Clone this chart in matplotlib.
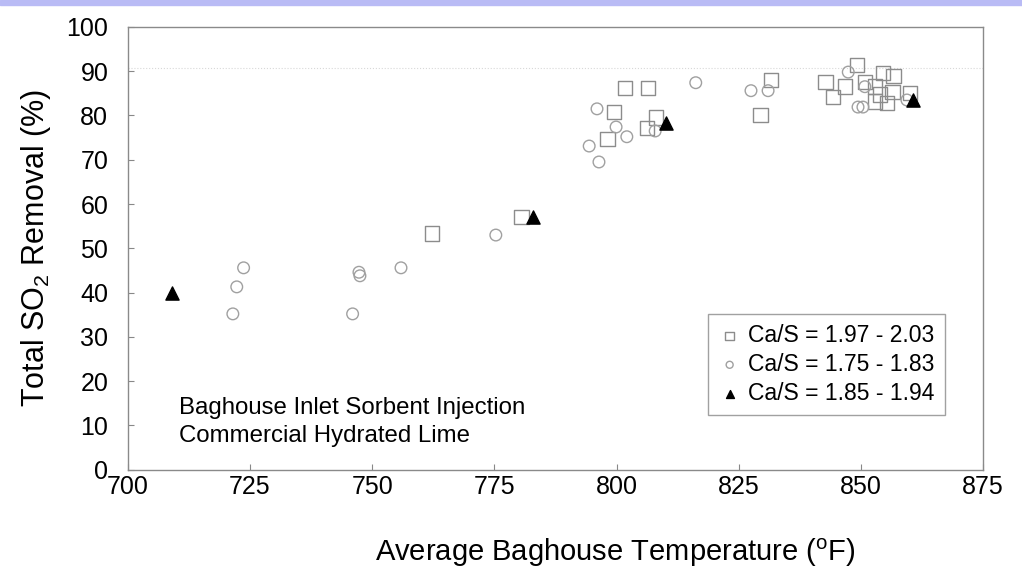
import matplotlib.pyplot as plt
from matplotlib.patches import Rectangle

plt.rcParams['font.family'] = ['Liberation Sans', 'DejaVu Sans']

# Ca/S = 1.97 - 2.03 (open squares)
sq_temp = [762.2, 780.6, 798.2, 799.5, 801.7, 806.4, 806.2, 808.1, 829.5, 831.6,
           842.7, 844.3, 846.7, 849.2, 850.8, 852.9, 853.9, 854.5, 856.6, 856.4,
           852.9, 855.3, 860.0]
sq_rem = [53.3, 57.1, 74.7, 80.8, 86.2, 86.2, 77.2, 79.5, 80.1, 88.0,
          87.6, 84.2, 86.5, 91.4, 87.6, 86.5, 84.7, 89.6, 88.9, 85.3,
          83.1, 82.8, 85.1]

# Ca/S = 1.75 - 1.83 (open circles)
ci_temp = [721.5, 722.3, 723.7, 746.0, 747.5, 747.3, 755.9, 775.3, 794.4, 796.0,
           796.4, 799.9, 802.1, 807.9, 816.2, 827.5, 831.0, 847.4, 849.4, 850.4,
           850.8, 859.4]
ci_rem = [35.2, 41.3, 45.6, 35.2, 43.8, 44.6, 45.6, 53.0, 73.1, 81.5,
          69.5, 77.4, 75.2, 76.5, 87.4, 85.6, 85.6, 89.8, 81.9, 81.9,
          86.5, 83.5]

# Ca/S = 1.85 - 1.94 (filled triangles)
tr_temp = [709.0, 782.9, 810.1, 860.7]
tr_rem = [40.0, 57.1, 78.3, 83.5]

xticks = [700, 725, 750, 775, 800, 825, 850, 875]
yticks = list(range(0, 101, 10))

fig = plt.figure(figsize=(10.22, 5.85), dpi=100)
fig.patches.append(Rectangle((0, 0.991), 1, 0.009, transform=fig.transFigure,
                             color='#b9bbf5', zorder=0))
ax = fig.add_axes([0.125, 0.197, 0.837, 0.757])

ax.axhline(90.8, color='#d8d8d8', lw=0.8, ls=':', zorder=0)

ax.scatter(sq_temp, sq_rem, marker='s', s=110, facecolors='none',
           edgecolors='#8c8c8c', linewidths=1.0, label='Ca/S = 1.97 - 2.03', zorder=2)
ax.scatter(ci_temp, ci_rem, marker='o', s=70, facecolors='none',
           edgecolors='#a0a0a0', linewidths=1.0, label='Ca/S = 1.75 - 1.83', zorder=3)
ax.scatter(tr_temp, tr_rem, marker='^', s=90, color='black',
           label='Ca/S = 1.85 - 1.94', zorder=4)

ax.set_xlim(700, 875)
ax.set_ylim(0, 100)
ax.set_xticks(xticks)
ax.set_yticks(yticks)
ax.tick_params(direction='in', length=4, color='#888888', labelsize=18)
ax.tick_params(axis='x', pad=4)
ax.tick_params(axis='y', pad=14)
for s in ax.spines.values():
    s.set_color('#8a8a8a')
    s.set_linewidth(1.0)

ax.set_xlabel('Average Baghouse Temperature ($^\\mathregular{o}$F)', fontsize=21)
ax.xaxis.set_label_coords(0.57, -0.15)
ax.set_ylabel('Total SO$_\\mathregular{2}$ Removal (%)', fontsize=22, labelpad=10)

ax.text(710.5, 14, 'Baghouse Inlet Sorbent Injection', fontsize=17.3, va='center')
ax.text(710.5, 7.7, 'Commercial Hydrated Lime', fontsize=17.3, va='center')

leg = ax.legend(loc='lower right', bbox_to_anchor=(0.955, 0.124), borderaxespad=0,
                fontsize=16.5, frameon=True, fancybox=False, edgecolor='#8a8a8a',
                handletextpad=0.3, borderpad=0.45, labelspacing=0.25,
                markerscale=0.6, handlelength=1.0)
leg.get_frame().set_linewidth(1.0)

fig.savefig('out.png', dpi=100)
